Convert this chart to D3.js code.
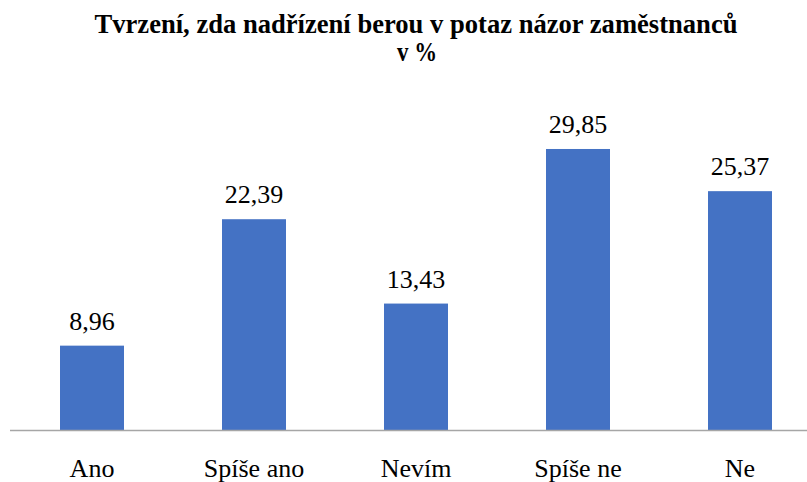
<!DOCTYPE html>
<html>
<head>
<meta charset="utf-8">
<script src="https://cdn.jsdelivr.net/npm/d3@7"></script>
<style>
  body { margin: 0; background: #fff; }
</style>
</head>
<body>
<div class="chart"></div>
<script>
const categories = ['Ano', 'Spíše ano', 'Nevím', 'Spíše ne', 'Ne'];
const values = [8.96, 22.39, 13.43, 29.85, 25.37];
const valueLabels = ['8,96', '22,39', '13,43', '29,85', '25,37'];
const titleLines = ['Tvrzení, zda nadřízení berou v potaz názor zaměstnanců', 'v %'];

const width = 807, height = 482;
const serif = 'Liberation Serif';

const svg = d3.select('.chart').append('svg')
    .attr('width', width)
    .attr('height', height);

const x = d3.scaleBand()
  .domain(categories)
  .range([11, 821])
  .paddingInner(0.605)
  .paddingOuter(0.3025);

const y = d3.scaleLinear()
  .domain([0, 35])
  .range([430, 100.5]);

// title (condensed, like the original)
svg.append('text')
  .attr('x', 416)
  .attr('y', 33)
  .attr('text-anchor', 'middle')
  .attr('font-family', serif)
  .attr('font-weight', 'bold')
  .attr('font-size', 28)
  .attr('textLength', 643)
  .attr('lengthAdjust', 'spacingAndGlyphs')
  .text(titleLines[0]);

svg.append('text')
  .attr('x', 417)
  .attr('y', 61)
  .attr('text-anchor', 'middle')
  .attr('font-family', serif)
  .attr('font-weight', 'bold')
  .attr('font-size', 28)
  .attr('textLength', 40)
  .attr('lengthAdjust', 'spacingAndGlyphs')
  .text(titleLines[1]);

// bars
svg.selectAll('rect.bar')
  .data(values)
  .join('rect')
  .attr('class', 'bar')
  .attr('x', (d, i) => x(categories[i]))
  .attr('y', d => y(d))
  .attr('width', x.bandwidth())
  .attr('height', d => y(0) - y(d))
  .attr('fill', '#4472C4');

// baseline
svg.append('line')
  .attr('x1', 10)
  .attr('x2', width)
  .attr('y1', y(0) + 0.5)
  .attr('y2', y(0) + 0.5)
  .attr('stroke', '#a6a6a6')
  .attr('stroke-width', 1.3);

// value labels
svg.selectAll('text.val')
  .data(values)
  .join('text')
  .attr('class', 'val')
  .attr('x', (d, i) => x(categories[i]) + x.bandwidth() / 2)
  .attr('y', d => y(d) - 16)
  .attr('text-anchor', 'middle')
  .attr('font-family', serif)
  .attr('font-size', 26)
  .attr('fill', '#000')
  .text((d, i) => valueLabels[i]);

// category labels
const xAxis = svg.append('g')
  .attr('transform', `translate(0,${y(0)})`)
  .call(d3.axisBottom(x).tickSize(0).tickPadding(29));

xAxis.attr('font-family', serif).attr('font-size', 26);
xAxis.select('.domain').remove();
xAxis.selectAll('text')
  .attr('font-family', serif)
  .attr('fill', '#000');
</script>
</body>
</html>
